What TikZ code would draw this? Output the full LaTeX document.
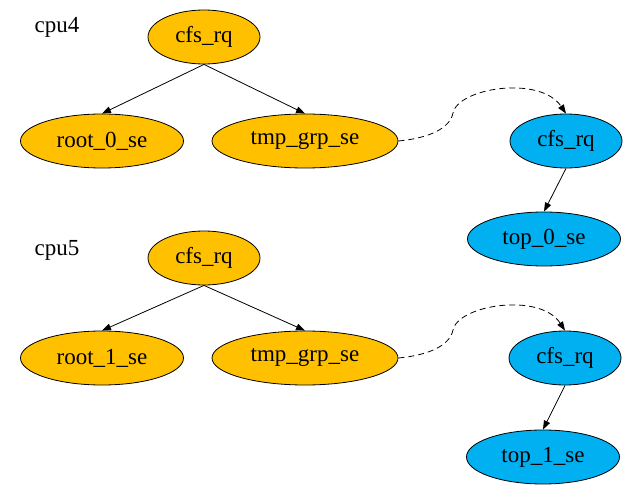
\documentclass[tikz,border=0pt]{standalone}
\usepackage{fontspec}
\setmainfont{Liberation Serif}
\usetikzlibrary{shapes.geometric,arrows.meta}
\definecolor{orangefill}{HTML}{FFC000}
\definecolor{bluefill}{HTML}{00B0F0}
\begin{document}
\begin{tikzpicture}[x=1pt,y=-1pt,
  every node/.style={font=\fontsize{23}{27}\selectfont},
  ell/.style={ellipse,draw=black,line width=0.8pt,inner sep=0pt,minimum height=54pt},
  onode/.style={ell,fill=orangefill},
  bnode/.style={ell,fill=bluefill},
  edge/.style={draw=black,line width=0.8pt,-{Triangle[length=9pt,width=6.5pt]}},
  dedge/.style={edge,dash pattern=on 6pt off 4pt}]
\useasboundingbox (0,0) rectangle (643,500);
% cpu4
\node (l4) at (57,27) {cpu4};
\node[onode,minimum width=112pt] (c4) at (204,37) {cfs\_rq};
\node[onode,minimum width=163pt] (r4) at (102,141) {root\_0\_se};
\node[onode,minimum width=186pt] (t4) at (305,141) {tmp\_grp\_se};
\node[bnode,minimum width=112pt] (b4) at (566,141) {cfs\_rq};
\node[bnode,minimum width=153pt] (p4) at (544,239) {top\_0\_se};
\draw[edge] (c4.south) -- (r4.north);
\draw[edge] (c4.south) -- (t4.north);
\draw[edge] (b4.south) -- (p4.north);
\draw[dedge] (t4.east) .. controls (430,138) and (450,128) .. (453,113)
  .. controls (458,88) and (540,75) .. (b4.north);
% cpu5
\node (l5) at (57,250) {cpu5};
\node[onode,minimum width=112pt] (c5) at (204,258) {cfs\_rq};
\node[onode,minimum width=163pt] (r5) at (102,358) {root\_1\_se};
\node[onode,minimum width=186pt] (t5) at (305,358) {tmp\_grp\_se};
\node[bnode,minimum width=112pt] (b5) at (565,358) {cfs\_rq};
\node[bnode,minimum width=153pt] (p5) at (543,457) {top\_1\_se};
\draw[edge] (c5.south) -- (r5.north);
\draw[edge] (c5.south) -- (t5.north);
\draw[edge] (b5.south) -- (p5.north);
\draw[dedge] (t5.east) .. controls (430,355) and (450,345) .. (453,330)
  .. controls (458,305) and (540,292) .. (b5.north);
\end{tikzpicture}
\end{document}
